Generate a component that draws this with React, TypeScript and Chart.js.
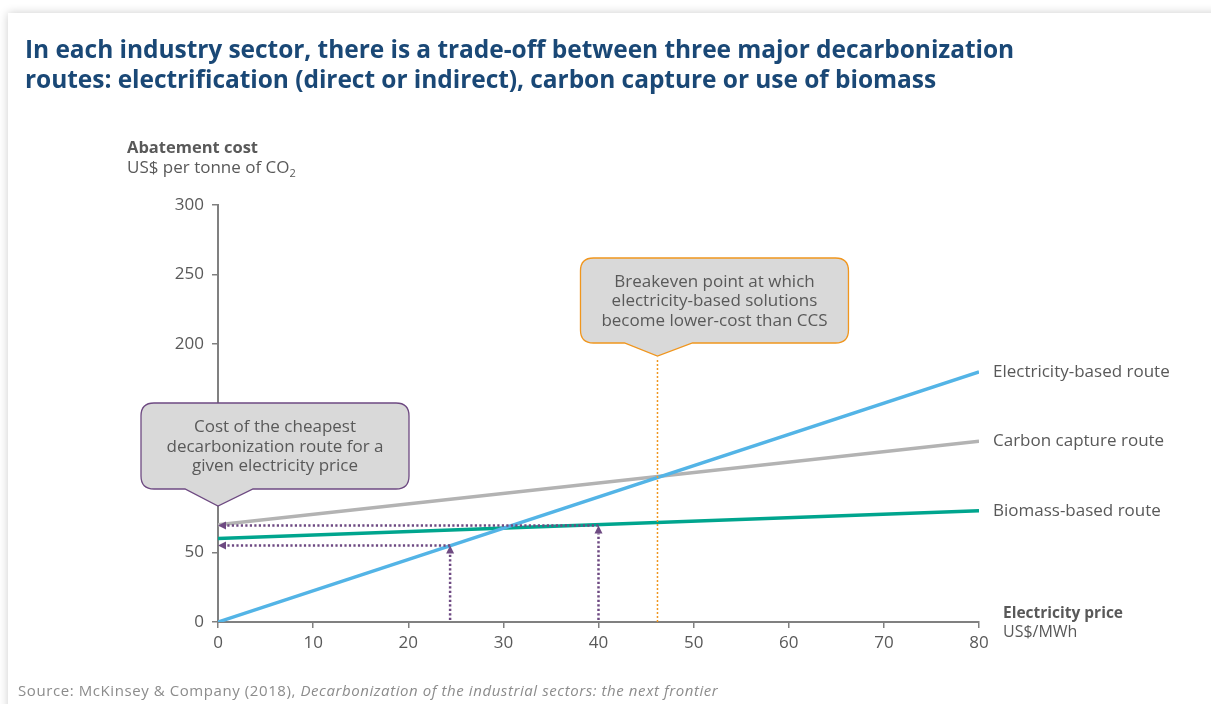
import React, { useEffect, useRef } from "react";
import { Chart, registerables } from "chart.js";

Chart.register(...registerables);

// ---------- data ----------
const electricityPrices = [0, 80];
const electricityRoute = [0, 180];
const carbonCaptureRoute = [70, 130];
const biomassRoute = [60, 80];
const seriesNames = ["Electricity-based route", "Carbon capture route", "Biomass-based route"];
const xTickValues = [0, 10, 20, 30, 40, 50, 60, 70, 80];
const yTickValues = [0, 50, 100, 150, 200, 250, 300];
const breakevenPrice = 46.2;
const breakevenLineTop = 190;
const cheapestPrices = [24.4, 40];
const cheapestCosts = [55, 69.5];
const calloutCheapest = ["Cost of the cheapest", "decarbonization route for a", "given electricity price"];
const calloutBreakeven = ["Breakeven point at which", "electricity-based solutions", "become lower-cost than CCS"];

// ---------- styles ----------
const BLUE = "#53b4e6";
const GREY = "#b3b3b3";
const TEAL = "#00a58e";
const PURPLE = "#6e4a82";
const ORANGE = "#f0961e";
const TEXT = "#595959";
const AXIS = "#808080";
const FONT = "'Open Sans', sans-serif";

function roundedCallout(ctx: CanvasRenderingContext2D, l: number, t: number, r: number, b: number, rad: number, pl: number, pr: number, tx: number, ty: number) {
  ctx.beginPath();
  ctx.moveTo(l + rad, t);
  ctx.lineTo(r - rad, t);
  ctx.quadraticCurveTo(r, t, r, t + rad);
  ctx.lineTo(r, b - rad);
  ctx.quadraticCurveTo(r, b, r - rad, b);
  ctx.lineTo(pr, b);
  ctx.lineTo(tx, ty);
  ctx.lineTo(pl, b);
  ctx.lineTo(l + rad, b);
  ctx.quadraticCurveTo(l, b, l, b - rad);
  ctx.lineTo(l, t + rad);
  ctx.quadraticCurveTo(l, t, l + rad, t);
  ctx.closePath();
}

const annotationPlugin = {
  id: "annotations",
  afterDatasetsDraw(chart: any) {
    const { ctx } = chart;
    const x = chart.scales.x;
    const y = chart.scales.y;
    ctx.save();
    // breakeven orange dotted line
    const bx = x.getPixelForValue(breakevenPrice);
    ctx.strokeStyle = ORANGE;
    ctx.lineWidth = 1.5;
    ctx.setLineDash([2, 2]);
    ctx.beginPath();
    ctx.moveTo(bx, y.getPixelForValue(0));
    ctx.lineTo(bx, y.getPixelForValue(breakevenLineTop));
    ctx.stroke();

    // purple dotted arrows
    const x0 = x.getPixelForValue(0);
    const yBase = y.getPixelForValue(0);
    const ah = 8;
    const aw = 4;
    for (let i = 0; i < cheapestPrices.length; i++) {
      const px = x.getPixelForValue(cheapestPrices[i]);
      const py = y.getPixelForValue(cheapestCosts[i]);
      ctx.strokeStyle = PURPLE;
      ctx.fillStyle = PURPLE;
      ctx.lineWidth = 2.5;
      ctx.setLineDash([2.2, 2.3]);
      ctx.beginPath();
      ctx.moveTo(px, yBase - 2);
      ctx.lineTo(px, py + ah);
      ctx.stroke();
      ctx.beginPath();
      ctx.moveTo(px, py);
      ctx.lineTo(x0 + ah, py);
      ctx.stroke();
      ctx.setLineDash([]);
      // up arrow head
      ctx.beginPath();
      ctx.moveTo(px, py);
      ctx.lineTo(px - aw, py + ah);
      ctx.lineTo(px + aw, py + ah);
      ctx.closePath();
      ctx.fill();
      // left arrow head
      ctx.beginPath();
      ctx.moveTo(x0, py);
      ctx.lineTo(x0 + ah, py - aw);
      ctx.lineTo(x0 + ah, py + aw);
      ctx.closePath();
      ctx.fill();
    }
    ctx.restore();
  },
  afterDraw(chart: any) {
    const { ctx } = chart;
    const x = chart.scales.x;
    const y = chart.scales.y;
    ctx.save();
    // series labels
    const series = [electricityRoute, carbonCaptureRoute, biomassRoute];
    ctx.font = `17px ${FONT}`;
    ctx.fillStyle = TEXT;
    ctx.textAlign = "left";
    ctx.textBaseline = "middle";
    const lx = x.getPixelForValue(electricityPrices[electricityPrices.length - 1]) + 14;
    series.forEach((s, i) => {
      ctx.fillText(seriesNames[i], lx, y.getPixelForValue(s[s.length - 1]));
    });

    // callouts
    const drawCallout = (tx: number, ty: number, border: string, lines: string[], boxTop: number, boxBottom: number) => {
      const l = tx - 77;
      const r = tx + 191;
      roundedCallout(ctx, l, boxTop, r, boxBottom, 13, tx - 33, tx + 35, tx, ty);
      ctx.fillStyle = "#d9d9d9";
      ctx.fill();
      ctx.strokeStyle = border;
      ctx.lineWidth = 1.3;
      ctx.setLineDash([]);
      ctx.stroke();
      ctx.fillStyle = TEXT;
      ctx.font = `17px ${FONT}`;
      ctx.textAlign = "center";
      ctx.textBaseline = "middle";
      const cx = (l + r) / 2;
      const cy = (boxTop + boxBottom) / 2;
      lines.forEach((ln, i) => {
        ctx.fillText(ln, cx, cy + (i - 1) * 19.5 + 1);
      });
    };
    const t1x = x.getPixelForValue(0);
    drawCallout(t1x, 506, PURPLE, calloutCheapest, 403, 489);
    const t2x = x.getPixelForValue(breakevenPrice);
    drawCallout(t2x, 356, ORANGE, calloutBreakeven, 258, 343);
    ctx.restore();
  },
};

export default function App() {
  const ref = useRef<HTMLCanvasElement | null>(null);
  useEffect(() => {
    if (!ref.current) return;
    const mk = (vals: number[]) => electricityPrices.map((p, i) => ({ x: p, y: vals[i] }));
    const chart = new Chart(ref.current, {
      type: "line",
      data: {
        datasets: [
          { label: seriesNames[0], data: mk(electricityRoute), borderColor: BLUE, borderWidth: 3.5, pointRadius: 0 },
          { label: seriesNames[1], data: mk(carbonCaptureRoute), borderColor: GREY, borderWidth: 3.5, pointRadius: 0 },
          { label: seriesNames[2], data: mk(biomassRoute), borderColor: TEAL, borderWidth: 3.5, pointRadius: 0 },
        ],
      },
      options: {
        responsive: false,
        animation: false,
        events: [],
        layout: { padding: { left: 158, right: 232, top: 205, bottom: 52 } },
        plugins: { legend: { display: false }, tooltip: { enabled: false }, title: { display: false } },
        scales: {
          x: {
            type: "linear",
            min: 0,
            max: 80,
            afterBuildTicks: (s: any) => { s.ticks = xTickValues.map((v) => ({ value: v })); },
            afterFit: (s: any) => { s.height = 30; },
            ticks: { color: TEXT, font: { family: FONT, size: 17 }, padding: 5, maxRotation: 0 },
            grid: { display: true, drawOnChartArea: false, drawTicks: true, tickLength: 6, color: AXIS, lineWidth: 1.5 },
            border: { display: true, color: AXIS, width: 2 },
          },
          y: {
            type: "linear",
            min: 0,
            max: 300,
            afterBuildTicks: (s: any) => { s.ticks = yTickValues.map((v) => ({ value: v })); },
            afterFit: (s: any) => { s.width = 60; },
            ticks: { color: TEXT, font: { family: FONT, size: 17 }, padding: 8 },
            grid: { display: true, drawOnChartArea: false, drawTicks: true, tickLength: 6, color: AXIS, lineWidth: 1.5 },
            border: { display: true, color: AXIS, width: 2 },
          },
        },
      },
      plugins: [annotationPlugin],
    } as any);
    return () => chart.destroy();
  }, []);

  return (
    <div style={{ position: "fixed", left: 0, top: 0, width: 1211, height: 704, background: "#fff", overflow: "hidden", fontFamily: FONT }}>
      <div style={{ position: "absolute", left: 8, top: 13, width: 1230, height: 720, background: "#fff", boxShadow: "0 0 9px rgba(0,0,0,0.2)" }} />
      <canvas ref={ref} width={1211} height={704} style={{ position: "absolute", left: 0, top: 0, width: 1211, height: 704 }} />
      <div style={{ position: "absolute", left: 25, top: 34, fontFamily: "'Open Sans', sans-serif", fontWeight: 700, fontSize: 24.5, lineHeight: "30px", color: "#1a4876", whiteSpace: "nowrap", letterSpacing: -0.05 }}>
        In each industry sector, there is a trade-off between three major decarbonization<br />
        routes: electrification (direct or indirect), carbon capture or use of biomass
      </div>
      <div style={{ position: "absolute", left: 127, top: 137, fontSize: 17, lineHeight: "20px", color: TEXT, whiteSpace: "nowrap" }}>
        <div style={{ fontWeight: 700, fontSize: 16.5 }}>Abatement cost</div>
        <div>US$ per tonne of CO<sub style={{ fontSize: 11, lineHeight: 0 }}>2</sub></div>
      </div>
      <div style={{ position: "absolute", left: 1003, top: 603, fontSize: 16, lineHeight: "19px", color: TEXT, whiteSpace: "nowrap" }}>
        <div style={{ fontWeight: 700, fontSize: 15.5 }}>Electricity price</div>
        <div>US$/MWh</div>
      </div>
      <div style={{ position: "absolute", left: 18, top: 680, fontSize: 15, lineHeight: "20px", color: "#8c8c8c", whiteSpace: "nowrap", letterSpacing: 0.58 }}>
        Source: McKinsey &amp; Company (2018), <i>Decarbonization of the industrial sectors: the next frontier</i>
      </div>
    </div>
  );
}
